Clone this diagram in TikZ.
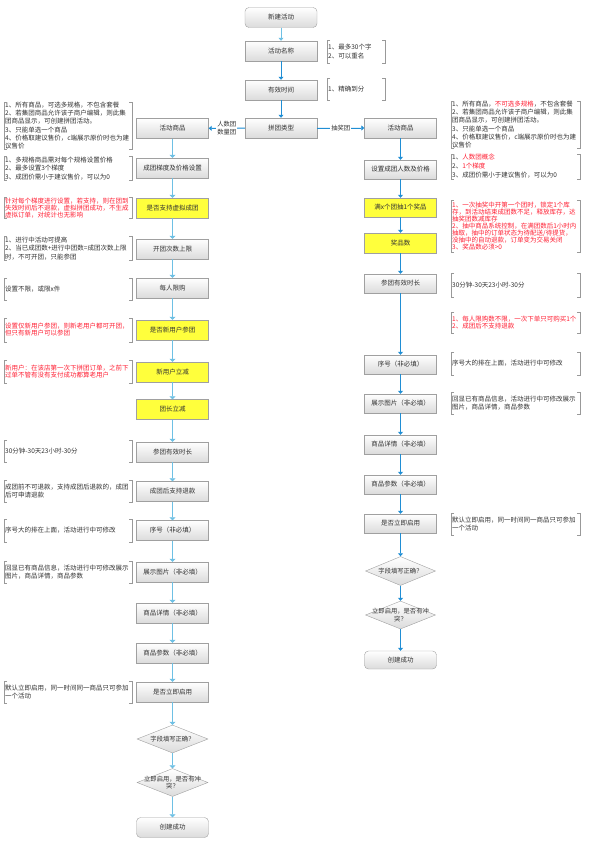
\documentclass[tikz,border=0pt]{standalone}
\usepackage{fontspec}
\setmainfont{Noto Sans CJK SC}
\usetikzlibrary{arrows.meta,shapes.geometric}
\definecolor{lineblue}{RGB}{110,192,228}
\definecolor{darkblue}{RGB}{32,142,212}
\definecolor{boxedge}{RGB}{160,160,160}
\definecolor{notered}{RGB}{255,30,50}
\definecolor{hiyellow}{RGB}{255,255,60}
\definecolor{txtgrey}{RGB}{50,50,50}
\tikzset{
  proc/.style={rectangle, draw=boxedge, top color=white, bottom color=black!14,
    minimum width=72pt, minimum height=20pt, inner sep=1pt,
    font=\fontsize{6.5}{8}\selectfont, text=txtgrey},
  hilite/.style={proc, top color=hiyellow, bottom color=hiyellow},
  terminal/.style={proc, rounded corners=4pt},
  decision/.style={diamond, draw=boxedge, top color=white, bottom color=black!14,
    minimum width=71pt, minimum height=28pt, inner sep=0pt},
  diatext/.style={font=\fontsize{6.3}{7.5}\selectfont, text=txtgrey, align=center, inner sep=0pt},
  memo/.style={anchor=west, align=left, inner xsep=1pt, inner ysep=0pt,
    text width=126pt, minimum height=22pt,
    font=\fontsize{6.5}{8.5}\selectfont, text=txtgrey},
  redmemo/.style={memo, text=notered, font=\fontsize{6.5}{7}\selectfont},
  bracket/.style={draw=black!40, line width=0.5pt},
  link/.style={-{Triangle[width=6pt,length=3pt]}, draw=lineblue, fill=lineblue, line width=1.6pt},
  thinlink/.style={-{Triangle[width=5pt,length=3pt]}, draw=darkblue, fill=darkblue, line width=0.9pt},
  branch/.style={fill=white, font=\fontsize{6.3}{8}\selectfont, text=txtgrey, align=center, inner sep=1pt},
}
\begin{document}
\begin{tikzpicture}[x=1pt,y=-1pt]
\useasboundingbox (0,0) rectangle (597,848);

% centre column
\node[terminal] (start) at (281,17.5) {新建活动};
\node[proc] (name) at (281,51) {活动名称};
\node[proc] (time) at (281,90) {有效时间};
\node[proc] (type) at (281,128) {拼团类型};
\node[memo, text width=56pt, minimum height=23pt] (nname) at (327,51.5) {1、最多30个字\\2、可以重名};
\node[memo, text width=56pt] (ntime) at (327,89) {1、精确到分};

% left column: 人数团 / 数量团
\node[proc] (lgoods) at (172.5,128.5) {活动商品};
\node[proc] (ltier) at (172.5,168) {成团梯度及价格设置};
\node[hilite] (lvirtual) at (172.5,208) {是否支持虚拟成团};
\node[proc] (lopen) at (172.5,249) {开团次数上限};
\node[proc] (llimit) at (172.5,288) {每人限购};
\node[hilite] (lnew) at (172.5,330) {是否新用户参团};
\node[hilite] (lnewcut) at (172.5,372) {新用户立减};
\node[hilite] (lleader) at (172.5,409.5) {团长立减};
\node[proc] (lvalid) at (172.5,452) {参团有效时长};
\node[proc] (lrefund) at (172.5,491.5) {成团后支持退款};
\node[proc] (lseq) at (172.5,530.5) {序号（非必填）};
\node[proc] (lpic) at (172.5,572) {展示图片（非必填）};
\node[proc] (ldetail) at (172.5,613) {商品详情（非必填）};
\node[proc] (lparam) at (172.5,653) {商品参数（非必填）};
\node[proc] (lenable) at (172.5,692) {是否立即启用};
\node[decision] (lcheck) at (172.5,739) {};
\node[diatext] (lchecktext) at (lcheck) {字段填写正确？};
\node[decision] (lconflict) at (172.5,782.5) {};
\node[diatext] (lconflicttext) at (lconflict) {立即启用，是否有冲\\突？};
\node[terminal] (lend) at (172.5,827.5) {创建成功};

\node[memo, font=\fontsize{6.5}{8.2}\selectfont] (ngoodsL) at (4,125.5) {1、所有商品，可选多规格，不包含套餐\\2、若集团商品允许该子商户编辑，则此集\\团商品显示，可创建拼团活动。\\3、只能单选一个商品\\4、价格取建议售价，c端展示原价时也为建\\议售价};
\node[memo] (ntierL) at (4,168.5) {1、多规格商品需对每个规格设置价格\\2、最多设置3个梯度\\3、成团价需小于建议售价，可以为0};
\node[redmemo, minimum height=20pt] (nvirtualL) at (4,208) {针对每个梯度进行设置，若支持，则在团到\\失效时间后不退款，虚拟拼团成功，不生成\\虚拟订单，对统计也无影响};
\node[memo] (nopenL) at (4,248.5) {1、进行中活动可提高\\2、当已成团数+进行中团数=成团次数上限\\时，不可开团，只能参团};
\node[memo] (nlimitL) at (4,289) {设置不限，或限x件};
\node[redmemo, minimum height=24pt] (nnewL) at (4,330) {设置仅新用户参团，则新老用户都可开团，\\但只有新用户可以参团};
\node[redmemo, minimum height=23pt] (nnewcutL) at (4,371.5) {新用户：在该店第一次下拼团订单，之前下\\过单不管有没有支付成功都算老用户};
\node[memo] (nvalidL) at (4,451) {30分钟-30天23小时-30分};
\node[memo, font=\fontsize{6.5}{8}\selectfont] (nrefundL) at (4,491.5) {成团前不可退款，支持成团后退款的，成团\\后可申请退款};
\node[memo, minimum height=23pt] (nseqL) at (4,530.5) {序号大的排在上面，活动进行中可修改};
\node[memo, font=\fontsize{6.5}{8}\selectfont] (npicL) at (4,572.5) {回显已有商品信息，活动进行中可修改展示\\图片，商品详情，商品参数};
\node[memo, font=\fontsize{6.5}{8}\selectfont] (nenableL) at (4,692) {默认立即启用，同一时间同一商品只可参加\\一个活动};

% right column: 抽奖团
\node[proc] (rgoods) at (400.5,128) {活动商品};
\node[proc, minimum height=19pt] (rsize) at (400.5,169.5) {设置成团人数及价格};
\node[hilite, minimum height=19pt] (rdraw) at (400.5,207.5) {满x个团抽1个奖品};
\node[hilite] (rprize) at (400.5,243) {奖品数};
\node[proc, minimum height=19pt] (rvalid) at (400.5,283.5) {参团有效时长};
\node[proc, minimum height=19pt] (rseq) at (400.5,364.5) {序号（非必填）};
\node[proc, minimum height=19pt] (rpic) at (400.5,403.5) {展示图片（非必填）};
\node[proc, minimum height=19pt] (rdetail) at (400.5,444.5) {商品详情（非必填）};
\node[proc, minimum height=19pt] (rparam) at (400.5,484.5) {商品参数（非必填）};
\node[proc, minimum height=19pt] (renable) at (400.5,523.5) {是否立即启用};
\node[decision, minimum width=70pt, minimum height=29pt] (rcheck) at (400.5,571) {};
\node[diatext] (rchecktext) at (rcheck) {字段填写正确？};
\node[decision, minimum width=70pt] (rconflict) at (400.5,615) {};
\node[diatext] (rconflicttext) at (rconflict) {立即启用，是否有冲\\突？};
\node[terminal, minimum height=18pt] (rend) at (400.5,660) {创建成功};

\node[memo, text width=127pt, font=\fontsize{6.5}{8.2}\selectfont] (ngoodsR) at (451,124.5) {1、所有商品，\textcolor{notered}{不可选多规格}，不包含套餐\\2、若集团商品允许该子商户编辑，则此集\\团商品显示，可创建拼团活动。\\3、只能单选一个商品\\4、价格取建议售价，c端展示原价时也为建\\议售价};
\node[memo, text width=127pt, minimum height=23pt, font=\fontsize{6.5}{9}\selectfont] (nsizeR) at (451,166.5) {1、\textcolor{notered}{人数团概念}\\2、\textcolor{notered}{1个梯度}\\3、成团价需小于建议售价，可以为0};
\node[redmemo, text width=127pt, minimum height=52pt] (ndrawR) at (451,226) {1、一次抽奖中开第一个团时，锁定1个库\\存，到活动结束成团数不足，释放库存，达\\抽奖团数减库存\\2、抽中商品系统控制，在满团数后1小时内\\抽取，抽中的订单状态为待配送/待提货，\\没抽中的自动退款，订单变为交易关闭\\3、奖品数必须>0};
\node[memo, text width=127pt, minimum height=24pt] (nvalidR) at (451,285) {30分钟-30天23小时-30分};
\node[redmemo, text width=127pt, minimum height=21pt] (nruleR) at (451,322.5) {1、每人限购数不限，一次下单只可购买1个\\2、成团后不支持退款};
\node[memo, text width=127pt, minimum height=23pt] (nseqR) at (451,363.5) {序号大的排在上面，活动进行中可修改};
\node[memo, text width=127pt, font=\fontsize{6.5}{8}\selectfont] (npicR) at (451,403) {回显已有商品信息，活动进行中可修改展示\\图片，商品详情，商品参数};
\node[memo, text width=127pt, font=\fontsize{6.5}{8}\selectfont] (nenableR) at (451,524) {默认立即启用，同一时间同一商品只可参加\\一个活动};

% brackets round the notes
\foreach \m in {nname,ntime,ngoodsL,ntierL,nvirtualL,nopenL,nlimitL,nnewL,nnewcutL,nvalidL,nrefundL,nseqL,npicL,nenableL,ngoodsR,nsizeR,ndrawR,nvalidR,nruleR,nseqR,npicR,nenableR} {
  \draw[bracket] ([xshift=3pt]\m.north west) -| (\m.south west) -- ++(3,0);
  \draw[bracket] ([xshift=-3pt]\m.north east) -| (\m.south east) -- ++(-3,0);
}

% connectors
\draw[thinlink, draw=lineblue, fill=lineblue] (start) -- (name);
\draw[thinlink] (name) -- (time);
\draw[thinlink] (time) -- (type);
\draw[thinlink] (type) -- node[branch] {人数团\\数量团} (lgoods);
\draw[thinlink] (type) -- node[branch] {抽奖团} (rgoods);
\foreach \a/\b in {lgoods/ltier,ltier/lvirtual,lvirtual/lopen,lopen/llimit,llimit/lnew,lnew/lnewcut,lnewcut/lleader,lleader/lvalid,lvalid/lrefund,lrefund/lseq,lseq/lpic,lpic/ldetail,ldetail/lparam,lparam/lenable,lenable/lcheck,lcheck/lconflict,lconflict/lend}
  \draw[link] (\a) -- (\b);
\foreach \a/\b in {rgoods/rsize,rsize/rdraw,rdraw/rprize,rprize/rvalid,rvalid/rseq,rseq/rpic,rpic/rdetail,rdetail/rparam,rparam/renable,renable/rcheck,rcheck/rconflict,rconflict/rend}
  \draw[thinlink] (\a) -- (\b);
\end{tikzpicture}
\end{document}
